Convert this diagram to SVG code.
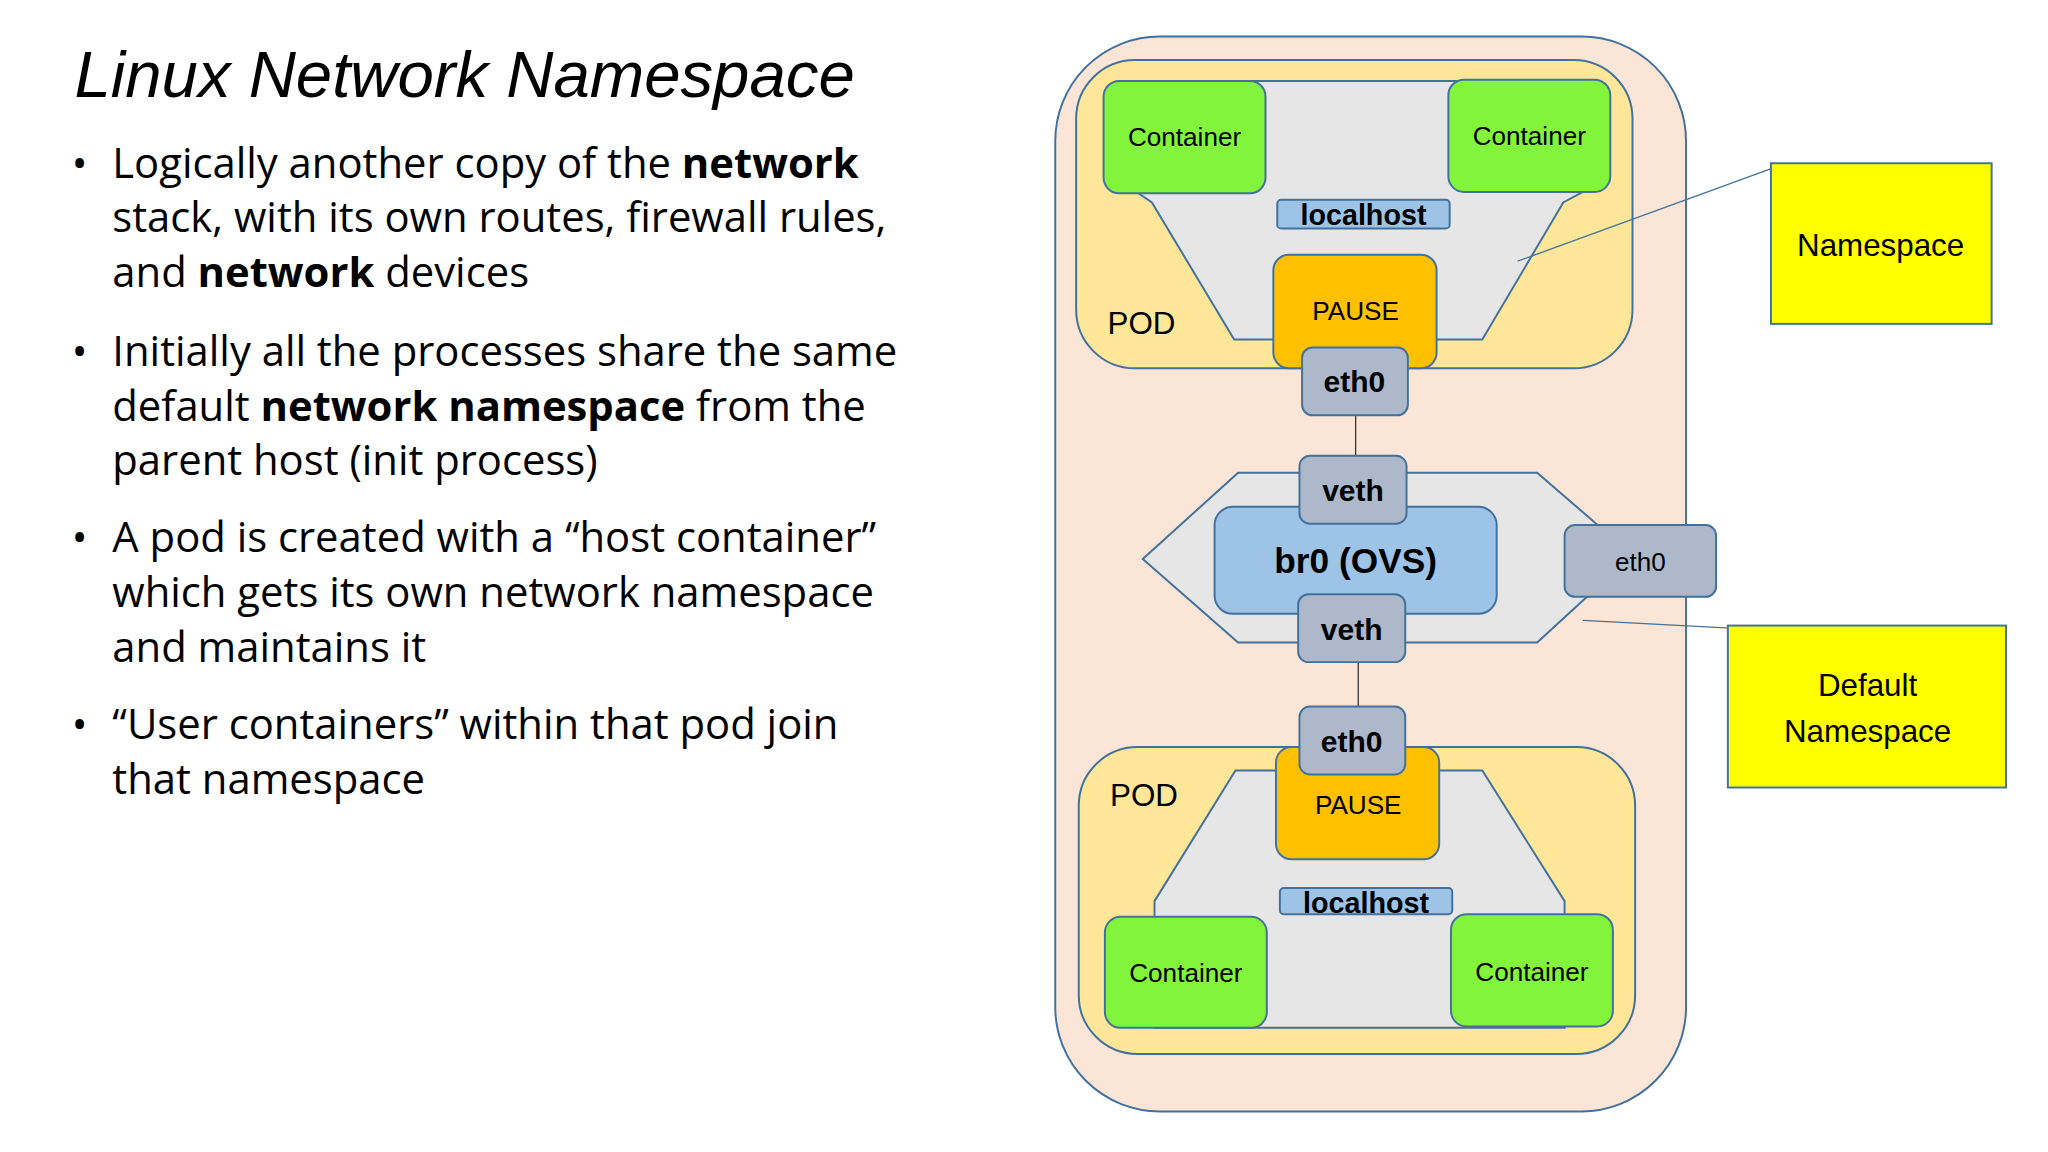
<svg xmlns="http://www.w3.org/2000/svg" width="2048" height="1152" viewBox="0 0 2048 1152">
<style>
text{font-family:"Liberation Sans","Noto Sans",sans-serif;fill:#000}
.b{font-size:32px;font-family:"Open Sans","Liberation Sans",sans-serif}
.s{stroke:#41719c;stroke-width:1.5}
.g{fill:#82f43c}
.gr{fill:#adb9ca}
.lbl{font-size:20px;text-anchor:middle}
.bold{font-weight:bold}
</style>
<rect width="2048" height="1152" fill="#fff"/>
<g transform="scale(1.306)">
<g id="text">
<text x="57" y="74" style="font-size:50px;font-style:italic" font-family="Liberation Sans">Linux Network Namespace</text>
<text class="b" x="55" y="136">•</text><text class="b" x="86" y="136">Logically another copy of the <tspan class="bold">network</tspan></text>
<text class="b" x="86" y="178">stack, with its own routes, firewall rules,</text>
<text class="b" x="86" y="220">and <tspan class="bold">network</tspan> devices</text>
<text class="b" x="55" y="280">•</text><text class="b" x="86" y="280">Initially all the processes share the same</text>
<text class="b" x="86" y="322">default <tspan class="bold">network namespace</tspan> from the</text>
<text class="b" x="86" y="364">parent host (init process)</text>
<text class="b" x="55" y="423">•</text><text class="b" x="86" y="423">A pod is created with a “host container”</text>
<text class="b" x="86" y="465">which gets its own network namespace</text>
<text class="b" x="86" y="507">and maintains it</text>
<text class="b" x="55" y="566">•</text><text class="b" x="86" y="566">“User containers” within that pod join</text>
<text class="b" x="86" y="608">that namespace</text>
</g>
<g id="host"><rect class="s" x="808" y="28" width="483" height="823" rx="80" fill="#fbe5d6"/></g>
<g id="pod1">
<rect class="s" x="824" y="46" width="426" height="236" rx="45" fill="#ffe699"/>
<polygon class="s" points="860,62 1225,62 1225,140 1197,155 1135,260 945,260 882,155 860,140" fill="#e7e6e6"/>
<text x="848" y="256" style="font-size:24px">POD</text>
</g>
<g id="c1"><rect class="s g" x="845" y="62" width="124" height="86" rx="12"/><text class="lbl" x="907" y="112">Container</text></g>
<g id="c2"><rect class="s g" x="1109" y="61" width="124" height="86" rx="12"/><text class="lbl" x="1171" y="111">Container</text></g>
<g id="lh1"><rect class="s" x="978" y="153" width="132" height="22" rx="3" fill="#9dc3e6"/><text class="lbl bold" x="1044" y="172" style="font-size:22px">localhost</text></g>
<g id="pause1"><rect class="s" x="975" y="195" width="125" height="87" rx="12" fill="#ffc000"/><text class="lbl" x="1038" y="245">PAUSE</text></g>
<g id="connectors" stroke="#333" stroke-width="1" fill="none">
<line x1="1038" y1="318" x2="1038" y2="349"/>
<line x1="1040" y1="507" x2="1040" y2="541"/>
<line x1="1146" y1="429" x2="1198" y2="429"/>
<line x1="1162" y1="200" x2="1362" y2="127" stroke="#41719c"/>
<line x1="1212" y1="475" x2="1325" y2="481" stroke="#41719c"/>
</g>
<g id="eth0a"><rect class="s gr" x="997" y="266" width="81" height="52" rx="8"/><text class="lbl bold" x="1037" y="300" style="font-size:23px">eth0</text></g>
<g id="bridge">
<polygon class="s" points="875,428 948,362 1177,362 1250,425 1177,492 948,492" fill="#e7e6e6"/>
<rect class="s" x="930" y="388" width="216" height="82" rx="14" fill="#9dc3e6"/>
<text class="lbl bold" x="1038" y="439" style="font-size:27px">br0 (OVS)</text>
</g>
<g id="veth1"><rect class="s gr" x="995" y="349" width="82" height="52" rx="8"/><text class="lbl bold" x="1036" y="384" style="font-size:23px">veth</text></g>
<g id="veth2"><rect class="s gr" x="994" y="455" width="82" height="52" rx="8"/><text class="lbl bold" x="1035" y="490" style="font-size:23px">veth</text></g>
<g id="eth0host"><rect class="s gr" x="1198" y="402" width="116" height="55" rx="8"/><text class="lbl" x="1256" y="437">eth0</text></g>
<g id="pod2">
<rect class="s" x="826" y="572" width="426" height="235" rx="45" fill="#ffe699"/>
<polygon class="s" points="946,590 1135,590 1198,690 1198,787 884,787 884,690" fill="#e7e6e6"/>
<text x="850" y="617" style="font-size:24px">POD</text>
</g>
<g id="pause2"><rect class="s" x="977" y="572" width="125" height="86" rx="12" fill="#ffc000"/><text class="lbl" x="1040" y="623">PAUSE</text></g>
<g id="eth0b"><rect class="s gr" x="995" y="541" width="81" height="52" rx="8"/><text class="lbl bold" x="1035" y="576" style="font-size:23px">eth0</text></g>
<g id="lh2"><rect class="s" x="980" y="680" width="132" height="20" rx="3" fill="#9dc3e6"/><text class="lbl bold" x="1046" y="699" style="font-size:22px">localhost</text></g>
<g id="c3"><rect class="s g" x="846" y="702" width="124" height="85" rx="12"/><text class="lbl" x="908" y="752">Container</text></g>
<g id="c4"><rect class="s g" x="1111" y="700" width="124" height="86" rx="12"/><text class="lbl" x="1173" y="751">Container</text></g>
<g id="ns"><rect class="s" x="1356" y="125" width="169" height="123" fill="#ffff00"/><text class="lbl" x="1440" y="196" style="font-size:24px">Namespace</text></g>
<g id="dns"><rect class="s" x="1323" y="479" width="213" height="124" fill="#ffff00"/><text class="lbl" x="1430" y="533" style="font-size:24px">Default</text><text class="lbl" x="1430" y="568" style="font-size:24px">Namespace</text></g>
</g>
</svg>
